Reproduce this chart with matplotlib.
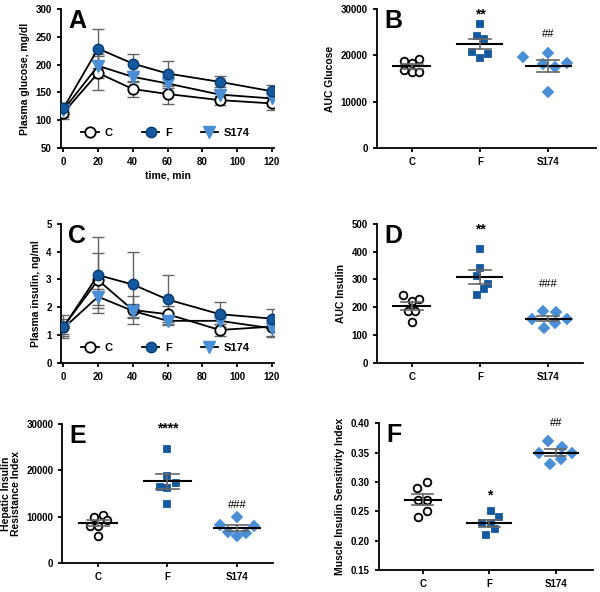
import numpy as np
import matplotlib.pyplot as plt

plt.rcParams['font.family'] = ['Liberation Sans', 'DejaVu Sans']
plt.rcParams['font.weight'] = 'bold'
plt.rcParams['axes.labelweight'] = 'bold'

NAVY = '#14589f'
LIGHT = '#4a8fd6'
GREY = '#666666'

groups = ['C', 'F', 'S174']
times = [0, 20, 40, 60, 90, 120]

# glucose curves (mg/dl) and SEM
glu_C = [113, 185, 156, 147, 136, 130]
glu_F = [121, 229, 202, 184, 169, 152]
glu_S = [118, 198, 178, 166, 146, 139]
glu_C_err = [12, 31, 14, 18, 8, 12]
glu_F_err = [10, 35, 18, 22, 10, 11]
glu_S_err = [12, 22, 10, 8, 9, 8]

# insulin curves (ng/ml) and SEM
ins_C = [1.30, 2.98, 1.90, 1.75, 1.18, 1.30]
ins_F = [1.28, 3.16, 2.82, 2.28, 1.75, 1.59]
ins_S = [1.24, 2.38, 1.87, 1.51, 1.51, 1.24]
ins_C_err = [0.42, 0.99, 0.50, 0.30, 0.20, 0.35]
ins_F_err = [0.30, 1.38, 1.16, 0.88, 0.45, 0.35]
ins_S_err = [0.20, 0.29, 0.25, 0.15, 0.12, 0.30]

# individual animals
auc_glu = {
    'C': [18720, 18290, 19230, 16770, 16330, 16330],
    'F': [26750, 24220, 23490, 20670, 20240, 19440],
    'S174': [19590, 20600, 18070, 17490, 18430, 12000],
}
auc_ins = {
    'C': [244, 222, 228, 188, 188, 148],
    'F': [410, 340, 312, 284, 264, 244],
    'S174': [188, 184, 156, 156, 144, 124],
}
hepatic = {
    'C': [9900, 10340, 9330, 7880, 7880, 5860],
    'F': [24580, 18800, 16480, 17210, 16120, 12650],
    'S174': [9980, 8100, 7950, 6580, 6510, 5860],
}
muscle = {
    'C': [0.29, 0.30, 0.27, 0.27, 0.24, 0.25],
    'F': [0.25, 0.24, 0.23, 0.23, 0.22, 0.21],
    'S174': [0.37, 0.36, 0.35, 0.35, 0.34, 0.33],
}
# horizontal jitter of the dots (category units)
jit_glu = {'C': [-0.12, 0.0, 0.11, -0.12, 0.0, 0.11],
           'F': [0.0, -0.05, 0.06, -0.11, 0.12, 0.0],
           'S174': [-0.37, 0.0, -0.07, 0.1, 0.27, 0.0]}
jit_ins = {'C': [-0.12, 0.0, 0.11, -0.06, 0.05, 0.0],
           'F': [0.0, 0.0, -0.05, 0.12, 0.06, -0.05],
           'S174': [-0.07, 0.11, -0.23, 0.27, 0.1, -0.06]}
jit_hep = {'C': [-0.05, 0.07, 0.13, -0.11, 0.01, 0.01],
           'F': [0.0, 0.0, -0.11, 0.12, 0.0, 0.0],
           'S174': [0.0, -0.25, 0.24, -0.13, 0.12, 0.0]}
jit_mus = {'C': [-0.08, 0.07, -0.07, 0.07, -0.07, 0.07],
           'F': [0.02, 0.15, -0.11, 0.02, 0.08, -0.05],
           'S174': [-0.11, 0.1, -0.25, 0.24, 0.08, -0.09]}

fig = plt.figure(figsize=(6, 5.92), dpi=100)


def style(ax):
    for s in ['top', 'right']:
        ax.spines[s].set_visible(False)
    for s in ['left', 'bottom']:
        ax.spines[s].set_linewidth(1.3)
    ax.tick_params(width=1.3, length=3, labelsize=7)
    for lbl in ax.get_xticklabels() + ax.get_yticklabels():
        lbl.set_fontweight('bold')


def curve_panel(ax, yc, yf, ys, ec, ef, es):
    ekw = dict(ecolor=GREY, elinewidth=1, capsize=4, capthick=1, zorder=2)
    ax.errorbar(times, yc, yerr=ec, fmt='none', **ekw)
    ax.errorbar(times, yf, yerr=ef, fmt='none', **ekw)
    ax.errorbar(times, ys, yerr=es, fmt='none', **ekw)
    ax.plot(times, yc, '-o', color='black', mfc='white', mec='black', ms=7.5, mew=1.3, lw=1.3, label='C', zorder=3)
    ax.plot(times, yf, '-o', color='black', mfc=NAVY, mec='#0a3c70', ms=7.5, mew=1, lw=1.3, label='F', zorder=4)
    ax.plot(times, ys, '-v', color='black', mfc=LIGHT, mec=LIGHT, ms=8, mew=1, lw=1.3, label='S174', zorder=3)
    ax.set_xlim(-1.5, 121.5)
    ax.set_xticks([0, 20, 40, 60, 80, 100, 120])
    ax.legend(loc='lower left', bbox_to_anchor=(0.05, 0.0), ncol=3, frameon=False,
              handlelength=1.6, columnspacing=2.6, handletextpad=0.5,
              prop={'weight': 'bold', 'size': 8})
    style(ax)


def dot_panel(ax, data, jit):
    markers = {'C': ('o', 'white', 'black', 5.5), 'F': ('s', NAVY, NAVY, 5), 'S174': ('D', LIGHT, LIGHT, 5.5)}
    half = [0.27, 0.33, 0.33]
    for i, g in enumerate(groups):
        v = np.array(data[g])
        m, fc, ec, ms = markers[g]
        ax.plot(i + np.array(jit[g]), v, m, mfc=fc, mec=ec, ms=ms, mew=1.3, ls='none', zorder=3)
        mean = v.mean()
        sem = v.std(ddof=1) / np.sqrt(len(v))
        ax.plot([i - half[i], i + half[i]], [mean, mean], color='black', lw=1.5, zorder=4)
        ax.plot([i, i], [mean - sem, mean + sem], color=GREY, lw=1.2, zorder=4)
        for y in (mean - sem, mean + sem):
            ax.plot([i - 0.16, i + 0.16], [y, y], color=GREY, lw=1.2, zorder=4)
    ax.set_xticks(range(3))
    ax.set_xticklabels(groups)
    style(ax)


def letter(ax, s):
    ax.text(0.035, 1.0, s, transform=ax.transAxes, fontsize=18, fontweight='bold', va='top', ha='left')


# A
axA = fig.add_axes([0.1012, 0.7505, 0.356, 0.2338])
curve_panel(axA, glu_C, glu_F, glu_S, glu_C_err, glu_F_err, glu_S_err)
axA.set_ylim(50, 300)
axA.set_yticks([50, 100, 150, 200, 250, 300])
axA.set_ylabel('Plasma glucose, mg/dl', fontsize=7.5)
axA.set_xlabel('time, min', fontsize=7.5, labelpad=3)
letter(axA, 'A')

# B
axB = fig.add_axes([0.6278, 0.7505, 0.3655, 0.2338])
dot_panel(axB, auc_glu, jit_glu)
axB.set_xlim(-0.513, 2.70)
axB.set_ylim(0, 30000)
axB.set_yticks([0, 10000, 20000, 30000])
axB.set_ylabel('AUC Glucose', fontsize=7.5)
axB.text(1, 28900, '**', ha='center', va='center', fontsize=10)
axB.text(2, 24600, '##', ha='center', va='center', fontsize=8, fontweight='normal')
letter(axB, 'B')

# C
axC = fig.add_axes([0.1012, 0.3873, 0.356, 0.2343])
curve_panel(axC, ins_C, ins_F, ins_S, ins_C_err, ins_F_err, ins_S_err)
axC.set_ylim(0, 5)
axC.set_yticks([0, 1, 2, 3, 4, 5])
axC.set_ylabel('Plasma insulin, ng/ml', fontsize=7.5)
letter(axC, 'C')

# D
axD = fig.add_axes([0.6278, 0.3873, 0.3438, 0.2343])
dot_panel(axD, auc_ins, jit_ins)
axD.set_xlim(-0.513, 2.51)
axD.set_ylim(0, 500)
axD.set_yticks([0, 100, 200, 300, 400, 500])
axD.set_ylabel('AUC Insulin', fontsize=7.5)
axD.text(1, 480, '**', ha='center', va='center', fontsize=10)
axD.text(2, 285, '###', ha='center', va='center', fontsize=8, fontweight='normal')
letter(axD, 'D')

# E
axE = fig.add_axes([0.1038, 0.0495, 0.351, 0.2338])
dot_panel(axE, hepatic, jit_hep)
axE.set_xlim(-0.507, 2.51)
axE.set_ylim(0, 30000)
axE.set_yticks([0, 10000, 20000, 30000])
axE.set_ylabel('Hepatic Insulin\nResistance Index', fontsize=7.5, linespacing=1.0)
axE.text(1, 29000, '****', ha='center', va='center', fontsize=10)
axE.text(2, 12600, '###', ha='center', va='center', fontsize=8, fontweight='normal')
letter(axE, 'E')

# F
axF = fig.add_axes([0.6317, 0.0367, 0.3567, 0.2483])
dot_panel(axF, muscle, jit_mus)
axF.set_xlim(-0.657, 2.56)
axF.set_ylim(0.15, 0.40)
axF.set_yticks([0.15, 0.20, 0.25, 0.30, 0.35, 0.40])
axF.set_yticklabels(['0.15', '0.20', '0.25', '0.30', '0.35', '0.40'])
for lbl in axF.get_yticklabels():
    lbl.set_fontweight('bold')
axF.set_ylabel('Muscle Insulin Sensitivity Index', fontsize=7.5)
axF.text(1, 0.278, '*', ha='center', va='center', fontsize=10)
axF.text(2, 0.40, '##', ha='center', va='center', fontsize=8, fontweight='normal')
letter(axF, 'F')

fig.savefig('out.png', dpi=100)
